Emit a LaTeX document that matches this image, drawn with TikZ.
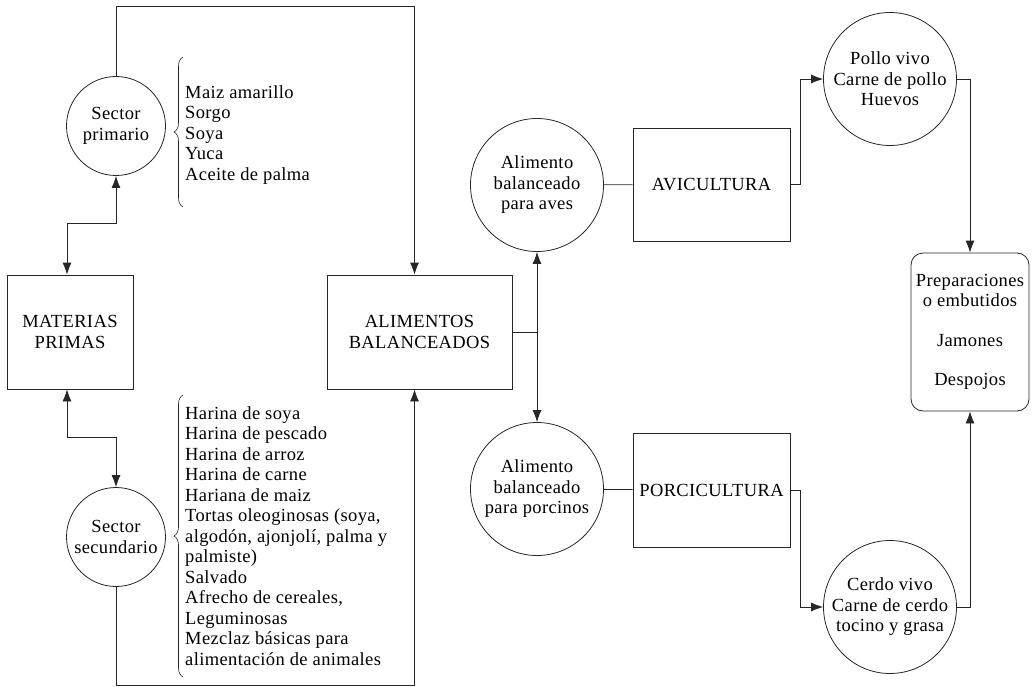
\documentclass[tikz,border=0pt]{standalone}
\usepackage{fontspec}
\setmainfont[LetterSpace=2]{Liberation Serif}
\usetikzlibrary{arrows.meta,decorations.pathreplacing}
\tikzset{
  linea/.style={draw=black!85, line width=0.8pt},
  punta/.style={-{Latex[length=12pt,width=9pt]}},
  doble/.style={{Latex[length=12pt,width=9pt]}-{Latex[length=12pt,width=9pt]}},
  texto/.style={font=\fontsize{18.5}{20.5}\selectfont, inner sep=0pt},
  circulo/.style={linea, texto, circle, align=center, minimum size=#1},
  caja/.style 2 args={linea, texto, rectangle, align=center, minimum width=#1, minimum height=#2},
  lista/.style={texto, align=left, anchor=west},
  llave/.style={linea, line width=0.6pt, decorate, decoration={brace, amplitude=9pt, aspect=0.5}}
}
\begin{document}
\begin{tikzpicture}[x=1pt,y=-1pt]
\useasboundingbox (0,0) rectangle (1035,687);
\pgfmathsetmacro\dsec{99}
\pgfmathsetmacro\dali{133}
\node[circulo=\dsec] (prim) at (116,126) {Sector\\primario};
\node[circulo=\dsec] (sec) at (116,537) {Sector\\secundario};
\node[caja={126}{114}] (mat) at (70,332) {MATERIAS\\PRIMAS};
\node[caja={185}{114}] (alim) at (419.5,332) {ALIMENTOS\\BALANCEADOS};
\node[circulo=\dali] (aves) at (537,185) {Alimento\\balanceado\\para aves};
\node[circulo=\dali] (porc) at (537,489) {Alimento\\balanceado\\para porcinos};
\node[caja={157}{113}] (avi) at (711.5,184.5) {AVICULTURA};
\node[caja={157}{114}] (porci) at (711.5,490) {PORCICULTURA};
\node[circulo=\dali] (pollo) at (890,79) {Pollo vivo\\Carne de pollo\\Huevos};
\node[circulo=\dali] (cerdo) at (890,607) {Cerdo vivo\\Carne de cerdo\\tocino y grasa};
\node[caja={118}{158}, rounded corners=12pt] (prep) at (970,332) {Preparaciones\\o embutidos\\[19pt]Jamones\\[19pt]Despojos};
\node[lista] (lprim) at (185,135) {Maiz amarillo\\Sorgo\\Soya\\Yuca\\Aceite de palma};
\node[lista] (lsec) at (185,536) {Harina de soya\\Harina de pescado\\Harina de arroz\\Harina de carne\\Hariana de maiz\\Tortas oleoginosas (soya,\\algodón, ajonjolí, palma y\\palmiste)\\Salvado\\Afrecho de cereales,\\Leguminosas\\Mezclaz básicas para\\alimentación de animales};
\draw[llave] (183,207) -- (183,57);
\draw[llave] (183,677) -- (183,395);
\coordinate (arriba) at (0,6);
\coordinate (abajo) at (0,685);
\draw[linea,doble] (prim.south) -- ++(0,47) -| ([xshift=-3pt]mat.north);
\draw[linea,doble] ([xshift=-3pt]mat.south) -- ++(0,48) -| (sec.north);
\draw[linea,punta] (prim.north) -- (prim.north |- arriba) -| ([xshift=-5pt]alim.north);
\draw[linea,punta] (sec.south) -- (sec.south |- abajo) -| ([xshift=-5pt]alim.south);
\coordinate (rama) at (alim.east -| aves.south);
\draw[linea] (alim.east) -- (rama);
\draw[linea,punta] (rama) -- (aves.south);
\draw[linea,punta] (rama) -- (porc.north);
\draw[linea] (aves) -- (avi);
\draw[linea] (porc) -- (porci);
\draw[linea,punta] (avi.east) -- ++(10,0) |- (pollo.west);
\draw[linea,punta] (porci.east) -- ++(10,0) |- (cerdo.west);
\draw[linea,punta] (pollo.east) -| (prep.north);
\draw[linea,punta] (cerdo.east) -| (prep.south);
\end{tikzpicture}
\end{document}
